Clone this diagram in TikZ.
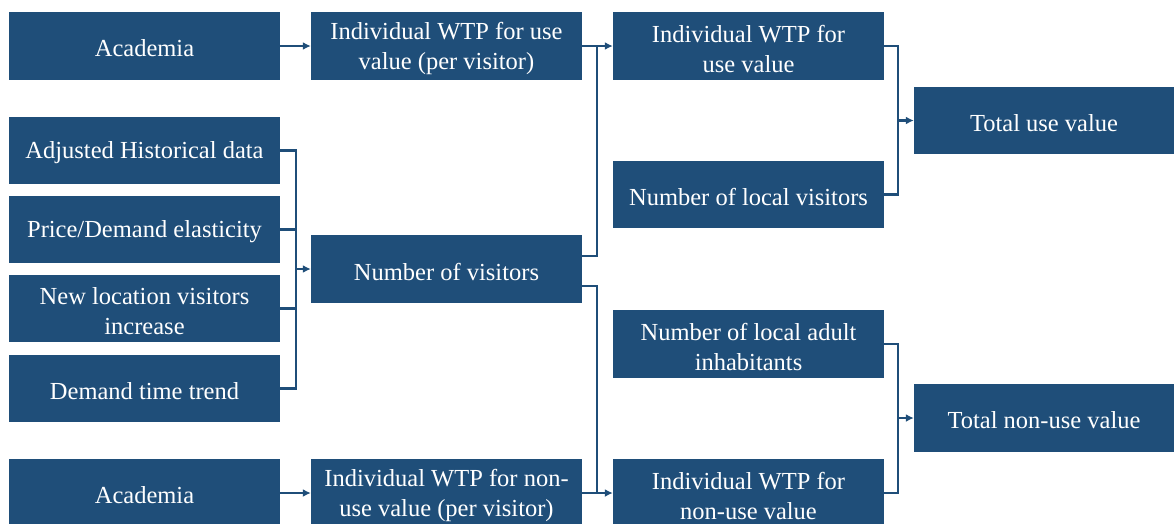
\documentclass[tikz,border=0pt]{standalone}
\usepackage{fontspec}
\setmainfont{Liberation Serif}
\usetikzlibrary{arrows.meta,calc}
\definecolor{boxblue}{RGB}{31,78,121}
\begin{document}
\begin{tikzpicture}[x=1pt,y=-1pt,
  box/.style={fill=boxblue,draw=none,inner sep=0pt,
    minimum width=271pt,minimum height=68pt},
  widebox/.style={box,minimum width=260pt},
  txt/.style={text=white,align=center,inner sep=0pt,yshift=-2.5pt,
    font=\fontsize{24.5}{30}\selectfont},
  link/.style={draw=boxblue,line width=2.4pt},
  arr/.style={link,-{Latex[length=8pt,width=8pt]}}]
\useasboundingbox (0,0) rectangle (1174,523);
% left column
\node[box,label={[txt]center:Academia}] (acadU) at (144.5,46) {};
\node[box,minimum height=67pt,label={[txt]center:Adjusted Historical data}] (adj) at (144.5,150.5) {};
\node[box,minimum height=67pt,label={[txt]center:Price/Demand elasticity}] (price) at (144.5,229.5) {};
\node[box,minimum height=67pt,label={[txt]center:{New location visitors\\increase}}] (newloc) at (144.5,308.5) {};
\node[box,minimum height=67pt,label={[txt]center:Demand time trend}] (trend) at (144.5,388.5) {};
\node[box,label={[txt]center:Academia}] (acadB) at (144.5,493) {};
% middle column
\node[box,label={[txt]center:{Individual WTP for use\\value (per visitor)}}] (wtpuPer) at (446.5,46) {};
\node[box,label={[txt]center:Number of visitors}] (nvis) at (446.5,269) {};
\node[box,label={[txt]center:{Individual WTP for non-\\use value (per visitor)}}] (wtpnPer) at (446.5,493) {};
% third column
\node[box,label={[txt]center:{Individual WTP for\\use value}}] (wtpu) at (748.5,46) {};
\node[box,minimum height=67pt,label={[txt]center:Number of local visitors}] (nloc) at (748.5,194.5) {};
\node[box,label={[txt]center:{Number of local adult\\inhabitants}}] (nadult) at (748.5,344) {};
\node[box,label={[txt]center:{Individual WTP for\\non-use value}}] (wtpn) at (748.5,493) {};
% totals
\node[widebox,minimum height=67pt,label={[txt]center:Total use value}] (totU) at (1044,120.5) {};
\node[widebox,label={[txt]center:Total non-use value}] (totN) at (1044,418) {};

% straight links
\draw[arr] (acadU.east) -- (wtpuPer.west);
\draw[arr] (wtpuPer.east) -- (wtpu.west);
\draw[arr] (acadB.east) -- (wtpnPer.west);
\draw[arr] (wtpnPer.east) -- (wtpn.west);

% bracket joining the four demand drivers
\coordinate (lb) at (296,269);
\draw[link] (adj.east) -| (lb |- trend.east) -- (trend.east);
\draw[link] (price.east) -- (lb |- price.east);
\draw[link] (newloc.east) -- (lb |- newloc.east);
\draw[arr] (lb) -- (nvis.west);

% visitors feeding both WTP lines
\coordinate (mv) at (597,269);
\draw[link] ($(nvis.east)+(0,-13)$) -| (mv |- wtpu.west);
\draw[link] ($(nvis.east)+(0,17)$) -| (mv |- wtpn.west);

% bracket to total use value
\coordinate (ru) at (898,120.5);
\draw[link] (wtpu.east) -| (ru |- nloc.east) -- (nloc.east);
\draw[arr] (ru) -- (totU.west);

% bracket to total non-use value
\coordinate (rn) at (898,418);
\draw[link] (nadult.east) -| (rn |- wtpn.east) -- (wtpn.east);
\draw[arr] (rn) -- (totN.west);
\end{tikzpicture}
\end{document}
